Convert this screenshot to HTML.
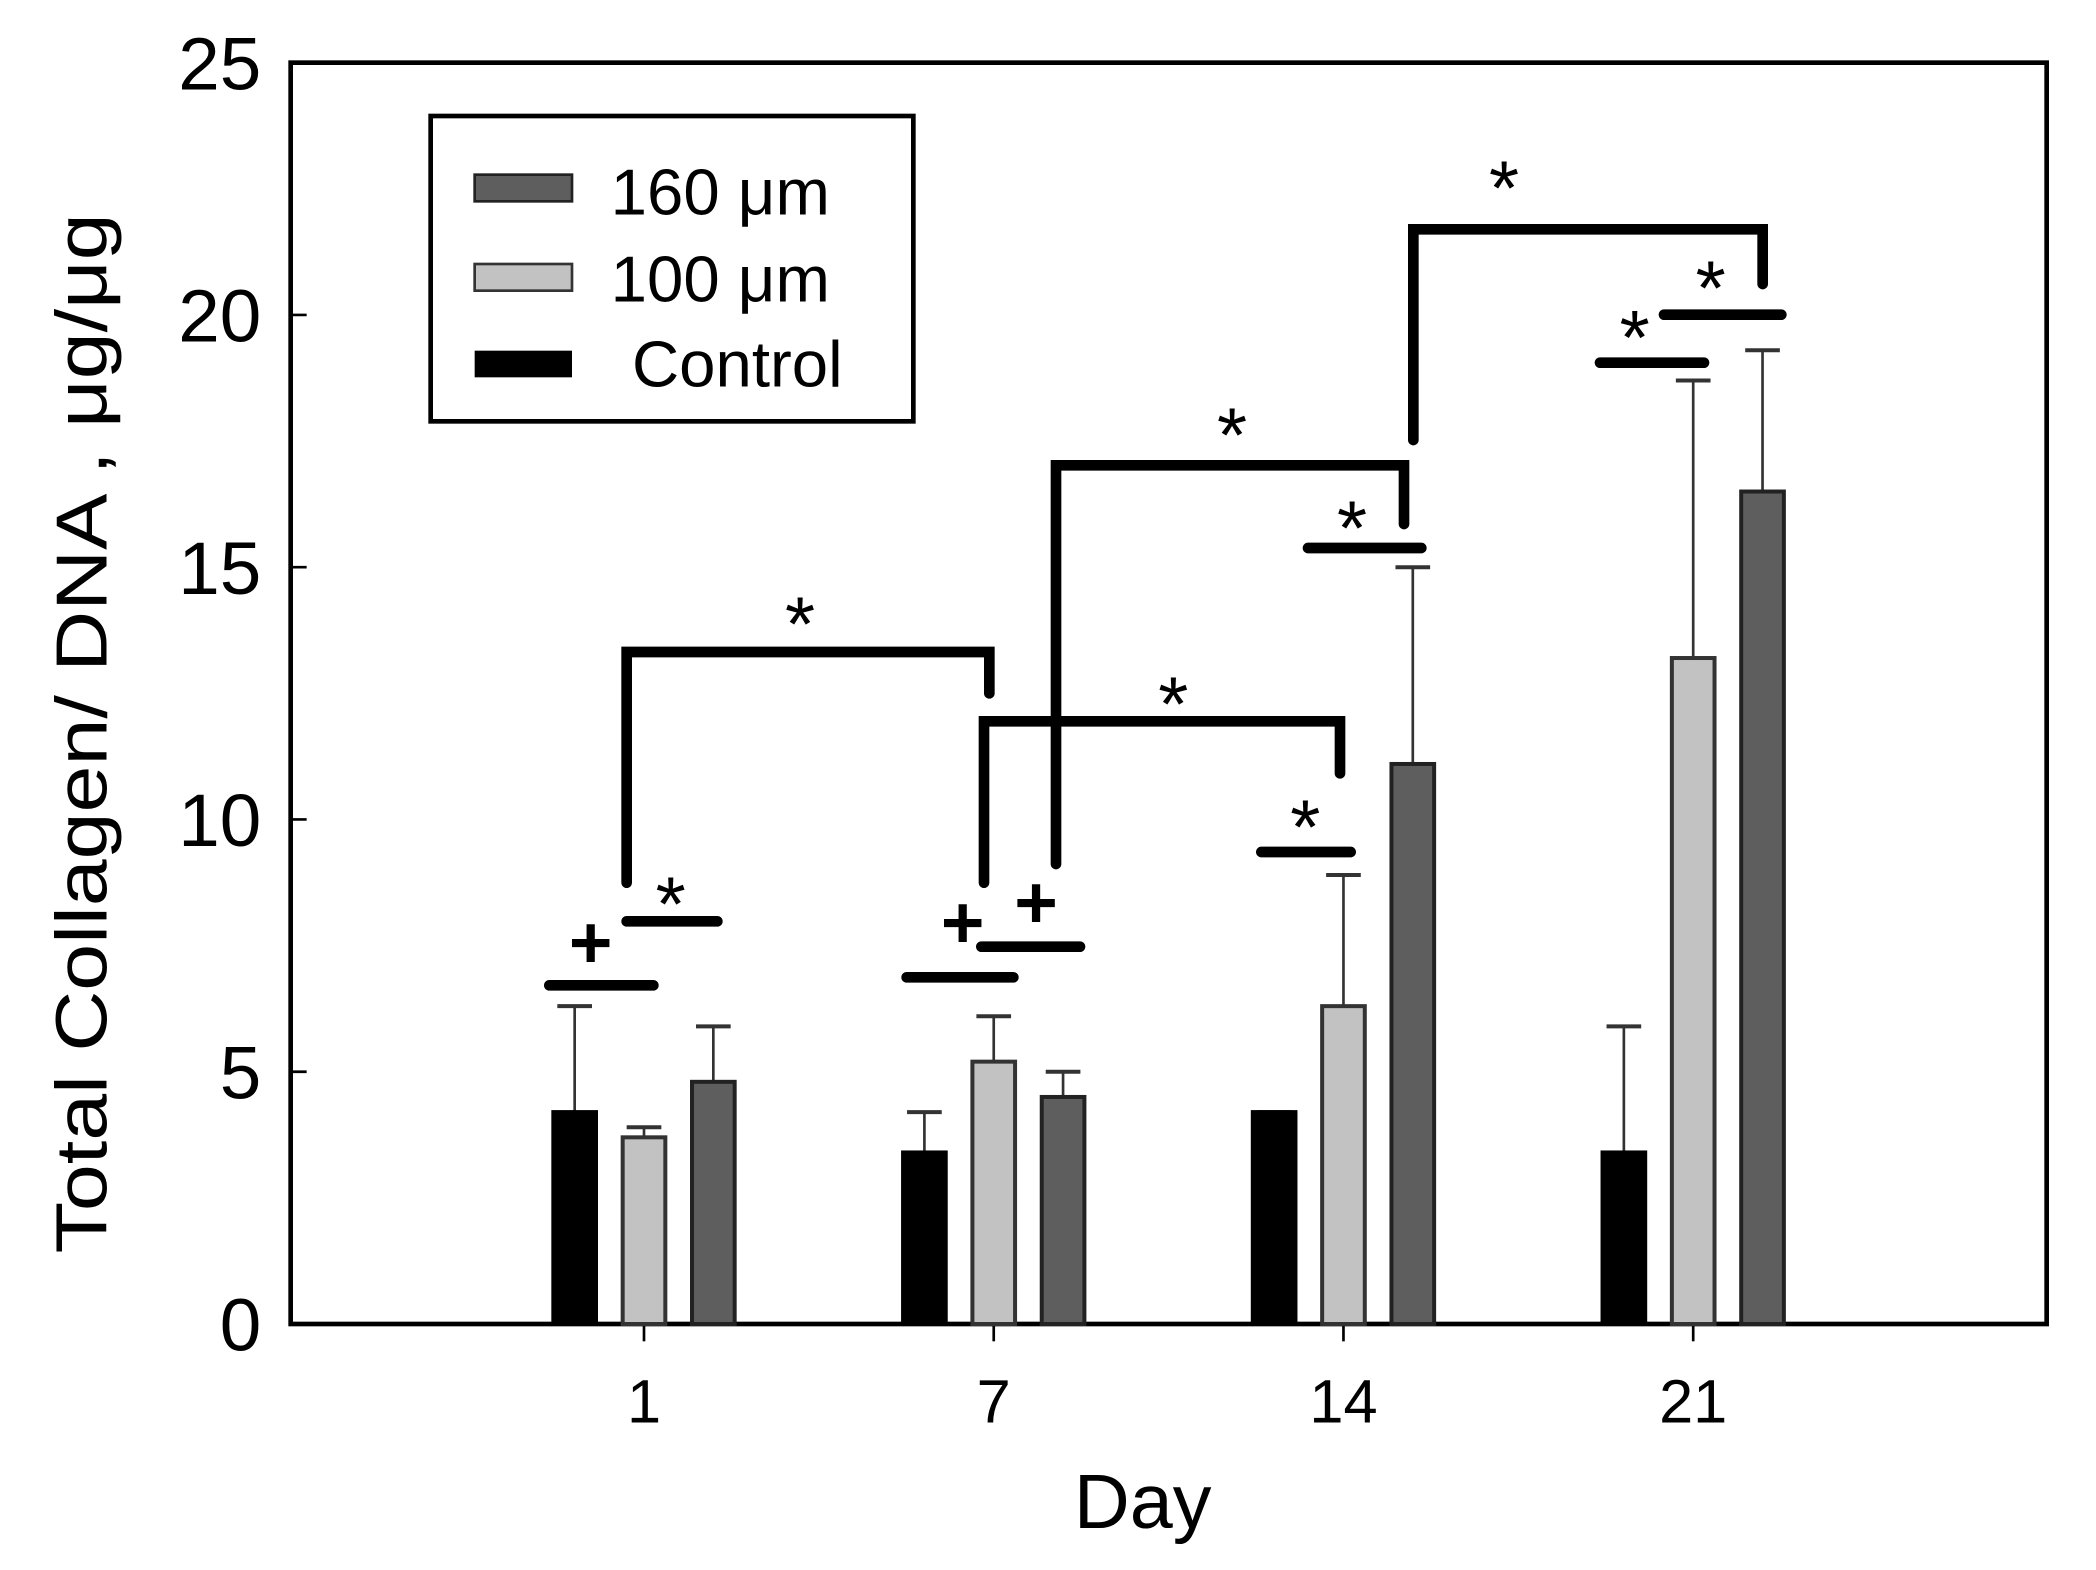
<!DOCTYPE html>
<html><head><meta charset="utf-8"><style>
html,body{margin:0;padding:0;background:#fff}
svg{display:block}
text{font-family:"Liberation Sans",sans-serif;fill:#000}
</style></head><body>
<svg id="chart" width="2096" height="1570" viewBox="0 0 1572 1177.5" preserveAspectRatio="none" xmlns="http://www.w3.org/2000/svg">
<rect x="218" y="47" width="1317" height="946" fill="none" stroke="#000" stroke-width="3.5"/>
<g id="axes"></g><g id="bars"></g>
<g id="annot" stroke="#000" stroke-width="8" stroke-linecap="round" fill="none">
<path d="M412 739H490M470 691H538M470 662V489H742V520M680 733H760M736 710H810M738 662V541H1005V580M792 648V349H1053V393M946 639H1013M981 411H1066M1060 330V172H1322V213M1200 272H1278M1248 236H1336"/>
</g>
<g font-size="58" text-anchor="middle">
<text x="443" y="726" font-size="56" font-weight="bold">+</text><text x="503" y="698">*</text><text x="600" y="488">*</text>
<text x="722" y="711" font-size="56" font-weight="bold">+</text><text x="777" y="696" font-size="56" font-weight="bold">+</text><text x="880" y="548">*</text>
<text x="924" y="346">*</text><text x="979" y="640">*</text><text x="1014" y="416">*</text>
<text x="1128" y="161">*</text><text x="1226" y="273">*</text><text x="1283" y="236">*</text>
</g>
<g>
<rect x="323" y="87" width="362" height="229" fill="#fff" stroke="#000" stroke-width="3.5"/>
<rect x="356" y="131" width="73" height="20" fill="#5e5e5e" stroke="#222" stroke-width="2"/>
<text x="458" y="161" font-size="49">160 μm</text>
<rect x="356" y="198" width="73" height="20" fill="#c2c2c2" stroke="#333" stroke-width="2"/>
<text x="458" y="226" font-size="49">100 μm</text>
<rect x="356" y="263" width="73" height="20" fill="#000"/>
<text x="474" y="290" font-size="49">Control</text>
</g>
<text x="857" y="1146" font-size="58" text-anchor="middle">Day</text>
<text transform="translate(80,550) rotate(-90)" font-size="54" text-anchor="middle" textLength="780" lengthAdjust="spacingAndGlyphs">Total Collagen/ DNA , μg/μg</text>
</svg>
<script>
const days=["1","7","14","21"];
const controlVals=[4.2,3.4,4.2,3.4];
const controlErr=[6.3,4.2,4.2,5.9];
const um100Vals=[3.7,5.2,6.3,13.2];
const um100Err=[3.9,6.1,8.9,18.7];
const um160Vals=[4.8,4.5,11.1,16.5];
const um160Err=[5.9,5.0,15.0,19.3];
const yTicks=[0,5,10,15,20,25];
const NS="http://www.w3.org/2000/svg";
const y=v=>993-v*37.84;
const x=i=>483+262.3*i;
function mk(tag,attrs,parent){const e=document.createElementNS(NS,tag);for(const k in attrs)e.setAttribute(k,attrs[k]);parent.appendChild(e);return e;}
const axes=document.getElementById('axes'),bars=document.getElementById('bars');
yTicks.forEach(t=>{
 const l=mk('line',{x1:218,x2:230,y1:y(t),y2:y(t),stroke:'#000','stroke-width':2},axes);
 
 
 const tx=mk('text',{x:196,y:y(t)+20,'font-size':56,'text-anchor':'end'},axes);tx.textContent=t;
 
 
});
days.forEach((d,i)=>{
 const l=mk('line',{x1:x(i),x2:x(i),y1:993,y2:1006,stroke:'#000','stroke-width':2},axes);
 
 
 const tx=mk('text',{x:x(i),y:1067,'font-size':46,'text-anchor':'middle'},axes);tx.textContent=d;
 
 
});
const series=[[controlVals,controlErr,'#000','#000',-52,'control'],[um100Vals,um100Err,'#c2c2c2','#333',0,'100um'],[um160Vals,um160Err,'#5e5e5e','#222',52,'160um']];
series.forEach(s=>{
 days.forEach((d,i)=>{
  const cx=x(i)+s[4],w=32;
  const el=mk('line',{x1:cx,x2:cx,y1:y(s[0][i]),y2:y(s[1][i]),stroke:'#333','stroke-width':2},bars);
  
  
  const cap=mk('line',{x1:cx-13,x2:cx+13,y1:y(s[1][i]),y2:y(s[1][i]),stroke:'#333','stroke-width':3},bars);
  
  
  const r=mk('rect',{x:cx-w/2,y:y(s[0][i]),width:w,height:993-y(s[0][i]),fill:s[2],stroke:s[3],'stroke-width':3},bars);
  
  
 });
});
</script>
</body></html>
